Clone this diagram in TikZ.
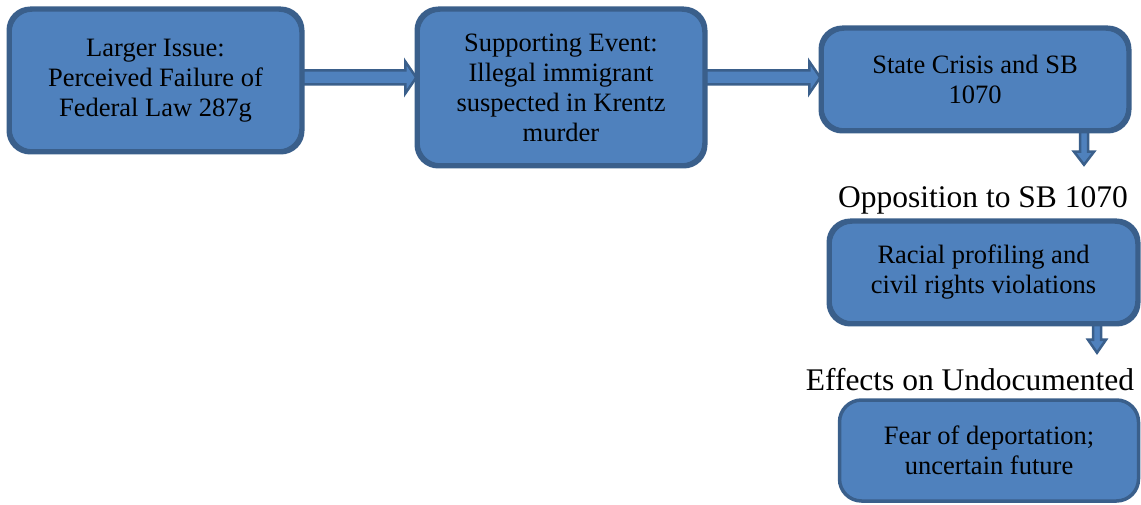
\documentclass[tikz,border=0pt]{standalone}
\usepackage{fontspec}
\setmainfont{Liberation Serif}
\usetikzlibrary{calc}
\definecolor{boxfill}{HTML}{4F81BD}
\definecolor{boxline}{HTML}{3A5F8B}

\begin{document}
\begin{tikzpicture}[x=1pt,y=1pt,
        issuebox/.style={draw=boxline, fill=boxfill, line width=3.5pt, rounded corners=22pt,
            align=center, inner sep=0pt, font=\fontsize{26.5}{30}\selectfont},
        blockarrow/.style={draw=boxline, fill=boxfill, line width=2.5pt},
        heading/.style={inner sep=0pt, font=\fontsize{31.5}{36}\selectfont}]
        % fix the page size
        \useasboundingbox (0,0) rectangle (1141,504);
        % the three boxes of the top row
        \node[issuebox, minimum width=291pt, minimum height=141pt] (issue) at (155.5,423.5)
            {Larger Issue:\\Perceived Failure of\\Federal Law 287g};
        \node[issuebox, minimum width=286pt, minimum height=155pt] (event) at (561,416.5)
            {Supporting Event:\\Illegal immigrant\\suspected in Krentz\\murder};
        \node[issuebox, minimum width=306pt, minimum height=101pt] (crisis) at (975,424.5)
            {State Crisis and SB\\1070};
        % headings and boxes of the right column
        \node[heading] (opposition) at (983,304) {Opposition to SB 1070};
        \node[issuebox, minimum width=307pt, minimum height=101pt] (profiling) at (983.5,231.5)
            {Racial profiling and\\civil rights violations};
        \node[heading] (effects) at (970,124) {Effects on Undocumented};
        \node[issuebox, minimum width=299pt, minimum height=101pt] (fear) at (989,53.5)
            {Fear of deportation;\\uncertain future};
        % arrows between the top boxes
        \draw[blockarrow] let \p1=($(issue.east)+(0,3)$), \p2=(\p1 -| event.west) in
            (\x1,\y1+7pt) -- (\x2-11pt,\y1+7pt) -- (\x2-11pt,\y1+16pt) -- (\x2,\y1)
            -- (\x2-11pt,\y1-16pt) -- (\x2-11pt,\y1-7pt) -- (\x1,\y1-7pt) -- cycle;
        \draw[blockarrow] let \p1=($(event.east)+(0,10)$), \p2=(\p1 -| crisis.west) in
            (\x1,\y1+7pt) -- (\x2-11pt,\y1+7pt) -- (\x2-11pt,\y1+16pt) -- (\x2,\y1)
            -- (\x2-11pt,\y1-16pt) -- (\x2-11pt,\y1-7pt) -- (\x1,\y1-7pt) -- cycle;
        % arrows down the right column
        \draw[blockarrow] let \p1=($(crisis.south)+(109,0)$), \p2=($(\p1)+(0,-33)$) in
            (\x1-4pt,\y1) -- (\x1-4pt,\y2+13pt) -- (\x1-10pt,\y2+13pt) -- (\x1,\y2)
            -- (\x1+10pt,\y2+13pt) -- (\x1+4pt,\y2+13pt) -- (\x1+4pt,\y1) -- cycle;
        \draw[blockarrow] let \p1=($(profiling.south)+(113.5,0)$), \p2=($(\p1)+(0,-28)$) in
            (\x1-4pt,\y1) -- (\x1-4pt,\y2+13pt) -- (\x1-9pt,\y2+13pt) -- (\x1,\y2)
            -- (\x1+9pt,\y2+13pt) -- (\x1+4pt,\y2+13pt) -- (\x1+4pt,\y1) -- cycle;
        % redraw the boxes on top of the arrow ends
        \foreach \b in {issue, event, crisis, profiling}{
            \draw[boxline, line width=3.5pt, rounded corners=22pt]
                (\b.south west) rectangle (\b.north east);
        }
    \end{tikzpicture}
\end{document}
